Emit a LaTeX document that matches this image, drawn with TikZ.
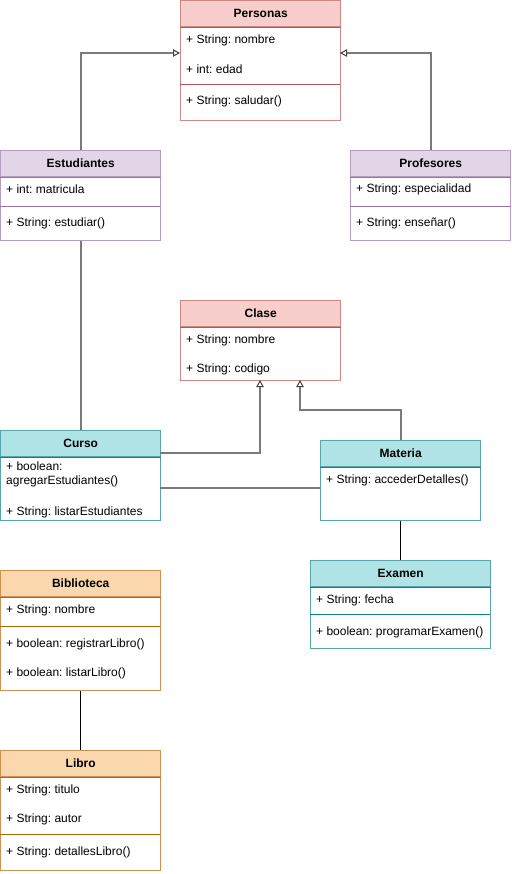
\documentclass[tikz,border=0pt]{standalone}
\usepackage{fontspec}
\setmainfont{Liberation Sans}
\usetikzlibrary{arrows.meta}
\frenchspacing

% draw.io-like palette
\definecolor{redF}{HTML}{F8CECC}\definecolor{redS}{HTML}{B85450}
\definecolor{purF}{HTML}{E1D5E7}\definecolor{purS}{HTML}{9673A6}
\definecolor{tealF}{HTML}{B0E3E6}\definecolor{tealS}{HTML}{0E8088}
\definecolor{orgF}{HTML}{FAD7AC}\definecolor{orgS}{HTML}{B46504}
\definecolor{edge}{HTML}{7A7A7A}

\tikzset{
  hdr/.style 2 args={draw=#2!70!white, fill=#1, line width=1.4pt, anchor=north west,
    inner sep=0pt, minimum height=26pt, font=\bfseries\fontsize{12}{14}\selectfont},
  bodybox/.style={draw=#1!70!white, fill=white, line width=1.4pt, anchor=north west, inner sep=0pt},
  sepline/.style={draw=#1, line width=0.9pt},
  attr/.style={anchor=west, inner sep=0pt, align=left, font=\fontsize{12}{14}\selectfont},
  conn/.style={draw=edge, line width=1.6pt},
  plain/.style={draw=black, line width=1pt},
  inherit/.style={conn, -{Triangle[open, length=7pt, width=7.5pt, line width=1pt, color=black!75]}}
}

\begin{document}
\begin{tikzpicture}[x=1pt,y=-1pt]
\useasboundingbox (0,0) rectangle (511,874);

% ---------- Personas ----------
\node[bodybox=redS, minimum width=160pt, minimum height=94pt] (persB) at (180,26) {};
\node[hdr={redF}{redS}, minimum width=160pt] (persH) at (180,0) {Personas};
\draw[sepline=redS] (persH.south west) -- (persH.south east);
\draw[sepline=redS] (180,84) -- (340,84);
\node[attr] (persA1) at (186,40) {+ String: nombre};
\node[attr] (persA2) at (186,69) {+ int: edad};
\node[attr] (persM1) at (186,101) {+ String: saludar()};
\coordinate (persL) at (180,53);
\coordinate (persR) at (340,53);

% ---------- Estudiantes ----------
\node[bodybox=purS, minimum width=160pt, minimum height=64pt] (estB) at (0,176) {};
\node[hdr={purF}{purS}, minimum width=160pt] (estH) at (0,150) {Estudiantes};
\draw[sepline=purS] (estH.south west) -- (estH.south east);
\draw[sepline=purS] (0,206) -- (160,206);
\node[attr] (estA1) at (6,189) {+ int: matricula};
\node[attr] (estM1) at (6,223) {+ String: estudiar()};

% ---------- Profesores ----------
\node[bodybox=purS, minimum width=160pt, minimum height=64pt] (profB) at (350,176) {};
\node[hdr={purF}{purS}, minimum width=160pt] (profH) at (350,150) {Profesores};
\draw[sepline=purS] (profH.south west) -- (profH.south east);
\draw[sepline=purS] (350,206) -- (510,206);
\node[attr] (profA1) at (356,189) {+ String: especialidad};
\node[attr] (profM1) at (356,223) {+ String: enseñar()};

% ---------- Clase ----------
\node[bodybox=redS, minimum width=160pt, minimum height=54pt] (claB) at (180,326) {};
\node[hdr={redF}{redS}, minimum width=160pt] (claH) at (180,300) {Clase};
\draw[sepline=redS] (claH.south west) -- (claH.south east);
\node[attr] (claA1) at (186,340) {+ String: nombre};
\node[attr] (claA2) at (186,369) {+ String: codigo};
\coordinate (claIn1) at (260,380);
\coordinate (claIn2) at (300,380);

% ---------- Curso ----------
\node[bodybox=tealS, minimum width=160pt, minimum height=64pt] (curB) at (0,456) {};
\node[hdr={tealF}{tealS}, minimum width=160pt] (curH) at (0,430) {Curso};
\draw[sepline=tealS] (curH.south west) -- (curH.south east);
\node[attr, anchor=north west] (curM1) at (6,462) {+ boolean:\\[-0.5pt]agregarEstudiantes()};
\node[attr] (curM2) at (6,512) {+ String: listarEstudiantes};
\coordinate (curR1) at (160,453);
\coordinate (curR2) at (160,488);

% ---------- Materia ----------
\node[bodybox=tealS, minimum width=160pt, minimum height=54pt] (matB) at (320,466) {};
\node[hdr={tealF}{tealS}, minimum width=160pt] (matH) at (320,440) {Materia};
\draw[sepline=tealS] (matH.south west) -- (matH.south east);
\node[attr] (matM1) at (326,480) {+ String: accederDetalles()};
\coordinate (matL) at (320,488);

% ---------- Examen ----------
\node[bodybox=tealS, minimum width=180pt, minimum height=62pt] (exaB) at (310,586) {};
\node[hdr={tealF}{tealS}, minimum width=180pt] (exaH) at (310,560) {Examen};
\draw[sepline=tealS] (exaH.south west) -- (exaH.south east);
\draw[sepline=tealS] (310,614) -- (490,614);
\node[attr] (exaA1) at (316,600) {+ String: fecha};
\node[attr] (exaM1) at (316,632) {+ boolean: programarExamen()};

% ---------- Biblioteca ----------
\node[bodybox=orgS, minimum width=160pt, minimum height=94pt] (bibB) at (0,596) {};
\node[hdr={orgF}{orgS}, minimum width=160pt] (bibH) at (0,570) {Biblioteca};
\draw[sepline=orgS] (bibH.south west) -- (bibH.south east);
\draw[sepline=orgS] (0,626) -- (160,626);
\node[attr] (bibA1) at (6,610) {+ String: nombre};
\node[attr] (bibM1) at (6,644) {+ boolean: registrarLibro()};
\node[attr] (bibM2) at (6,673) {+ boolean: listarLibro()};

% ---------- Libro ----------
\node[bodybox=orgS, minimum width=160pt, minimum height=94pt] (libB) at (0,776) {};
\node[hdr={orgF}{orgS}, minimum width=160pt] (libH) at (0,750) {Libro};
\draw[sepline=orgS] (libH.south west) -- (libH.south east);
\draw[sepline=orgS] (0,834) -- (160,834);
\node[attr] (libA1) at (6,790) {+ String: titulo};
\node[attr] (libA2) at (6,819) {+ String: autor};
\node[attr] (libM1) at (6,852) {+ String: detallesLibro()};

% ---------- Connectors ----------
\draw[inherit] (estH.north) |- (persL);
\draw[inherit] (profH.north) |- (persR);
\draw[conn] (estB.south) -- (curH.north);
\draw[inherit] (curR1) -| (claIn1);
\draw[inherit] (matH.north) |- (300,410) -- (claIn2);
\draw[conn] (curR2) -- (matL);
\draw[plain] (matB.south) -- (exaH.north);
\draw[plain] (bibB.south) -- (libH.north);
\end{tikzpicture}
\end{document}
